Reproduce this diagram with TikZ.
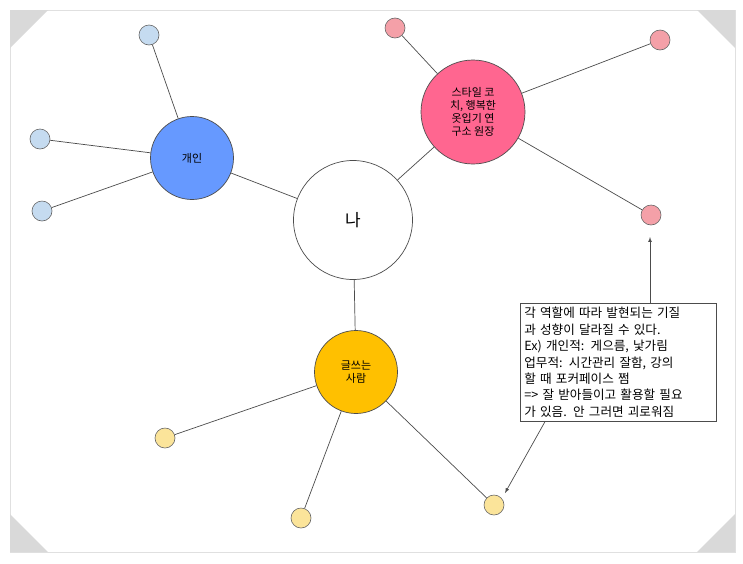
\documentclass[tikz,border=0pt]{standalone}
\usepackage{fontspec}
\setmainfont{Noto Sans CJK KR}
\begin{document}
\begin{tikzpicture}[x=1pt,y=-1pt,
  edge/.style={draw=black!70,line width=0.7pt},
  big/.style={circle,draw=black!70,line width=0.7pt,inner sep=0pt,align=center,font=\fontsize{11}{13}\selectfont},
  small/.style={circle,draw=black!60,line width=0.6pt,minimum size=20pt,inner sep=0pt},
  corner/.style={fill=black!15,draw=none}]
\useasboundingbox (0,0) rectangle (743,563);
\fill[white] (0,0) rectangle (743,563);
\draw[black!12,line width=1pt] (10,10) rectangle (735,552);
\fill[corner] (10,10) -- (48,10) -- (10,48) -- cycle;
\fill[corner] (735,10) -- (697,10) -- (735,48) -- cycle;
\fill[corner] (10,552) -- (48,552) -- (10,514) -- cycle;
\fill[corner] (735,552) -- (697,552) -- (735,514) -- cycle;
\definecolor{bluebig}{HTML}{6699FF}
\definecolor{bluesm}{HTML}{C5DBF0}
\definecolor{pinkbig}{HTML}{FF6690}
\definecolor{pinksm}{HTML}{F4A0A8}
\definecolor{yelbig}{HTML}{FFC000}
\definecolor{yelsm}{HTML}{FBE49A}
\node[big,minimum size=119pt,font=\fontsize{17}{20}\selectfont] (me) at (353,220) {나};
\node[big,fill=bluebig,minimum size=83pt] (ind) at (192,158) {개인};
\node[big,fill=pinkbig,minimum size=104pt] (sty) at (473,112) {스타일 코\\치, 행복한\\옷입기 연\\구소 원장};
\node[big,fill=yelbig,minimum size=83pt] (wri) at (356,372) {글쓰는\\사람};
\node[small,fill=bluesm] (b1) at (149,35) {};
\node[small,fill=bluesm] (b2) at (40,139) {};
\node[small,fill=bluesm] (b3) at (42,211) {};
\node[small,fill=pinksm] (p1) at (395,28) {};
\node[small,fill=pinksm] (p2) at (660,40) {};
\node[small,fill=pinksm] (p3) at (651,215) {};
\node[small,fill=yelsm] (y1) at (165,438) {};
\node[small,fill=yelsm] (y2) at (301,518) {};
\node[small,fill=yelsm] (y3) at (494,505) {};
\draw[edge] (me) -- (ind); \draw[edge] (me) -- (sty); \draw[edge] (me) -- (wri);
\foreach \s in {b1,b2,b3} \draw[edge] (ind) -- (\s);
\foreach \s in {p1,p2,p3} \draw[edge] (sty) -- (\s);
\foreach \s in {y1,y2,y3} \draw[edge] (wri) -- (\s);
\node[draw=black!70,line width=0.7pt,fill=white,anchor=north west,text width=188pt,inner sep=4pt,align=left,font=\fontsize{12.6}{16.4}\selectfont] (note) at (520,303)
 {각 역할에 따라 발현되는 기질\\과 성향이 달라질 수 있다.\\Ex) 개인적: 게으름, 낯가림\\업무적: 시간관리 잘함, 강의\\할 때 포커페이스 쩜\\=> 잘 받아들이고 활용할 필요\\가 있음. 안 그러면 괴로워짐};
\coordinate (a1) at (650,237);
\coordinate (a2) at (505,493);
\draw[edge,-latex] (note.north -| a1) -- (a1);
\draw[edge,-latex] (note.south west) ++(25,0) -- (a2);
\end{tikzpicture}
\end{document}
